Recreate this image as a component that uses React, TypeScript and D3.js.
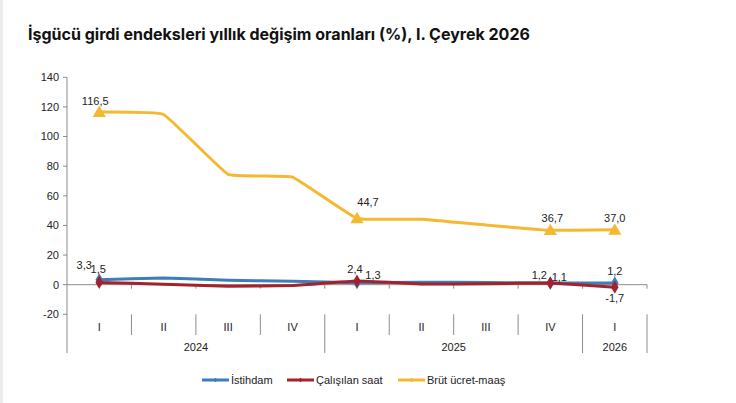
import React from "react";
import * as d3 from "d3";

// Quarters and years on the category axis.
const quarters = ["I", "II", "III", "IV", "I", "II", "III", "IV", "I"];
const years = [
    { label: "2024", from: 0, to: 4 },
    { label: "2025", from: 4, to: 8 },
    { label: "2026", from: 8, to: 9 },
];

// Series values (% annual change).
const istihdam = [3.3, 4.5, 3.0, 2.3, 1.3, 1.7, 1.4, 1.2, 1.2];
const calisilanSaat = [1.5, 0.3, -1.0, -0.5, 2.4, 0.5, 0.6, 1.1, -1.7];
const brutUcret = [116.5, 114.9, 74.5, 72.6, 44.7, 44.2, 40.3, 36.7, 37.0];

const yTicks = [-20, 0, 20, 40, 60, 80, 100, 120, 140];

// Points that carry a marker and a value label.
const labelled = [0, 4, 7, 8];

interface ISeries {
    name: string;
    values: number[];
    color: string;
    marker: "diamond" | "triangle";
    // label offsets per labelled index: [dx, dy]
    offsets: Record<number, [number, number]>;
}

const series: ISeries[] = [
    {
        name: "İstihdam",
        values: istihdam,
        color: "#3b7dbd",
        marker: "diamond",
        offsets: { 0: [-15, -15], 4: [16, -8], 7: [-11, -8], 8: [0, -12] },
    },
    {
        name: "Çalışılan saat",
        values: calisilanSaat,
        color: "#a4222c",
        marker: "diamond",
        offsets: { 0: [-1, -13], 4: [-2, -12], 7: [9, -6], 8: [0, 11] },
    },
    {
        name: "Brüt ücret-maaş",
        values: brutUcret,
        color: "#f5b931",
        marker: "triangle",
        offsets: { 0: [-4, -11], 4: [11, -16], 7: [2, -12], 8: [0, -12] },
    },
];

const fmt = (v: number): string => v.toFixed(1).replace(".", ",");

const W = 736;
const H = 403;
const left = 67;
const right = 647;
const catTop = 314.3;
const catMid = 335;
const catBottom = 353;

const App = () => {
    const x = d3.scaleBand<number>().domain(d3.range(quarters.length)).range([left, right]).padding(0);
    const cx = (i: number) => (x(i) as number) + x.bandwidth() / 2;
    const y = d3.scaleLinear().domain([-20, 140]).range([314.3, 77.3]);
    const y0 = y(0);

    // Excel-like light smoothing
    const line = d3.line<number>()
        .x((_, i) => cx(i))
        .y((d) => y(d))
        .curve(d3.curveCardinal.tension(0.75));

    const diamond = d3.symbol().type(d3.symbolDiamond).size(50)() as string;
    const triangle = d3.symbol().type(d3.symbolTriangle).size(75)() as string;

    const axisColor = "#8c8c8c";
    const font = "'Liberation Sans', Arial, sans-serif";

    const legendItems = [
        { x: 202, s: series[0] },
        { x: 287, s: series[1] },
        { x: 398, s: series[2] },
    ];

    return (
        <svg width={W} height={H} style={{ position: "fixed", left: 0, top: 0, background: "#fff" }}>
            <rect x={0} y={0} width={W} height={H} fill="#fff" />
            <rect x={0} y={0} width={3} height={H} fill="#ebebeb" />

            <text x={28} y={40} fontFamily="Inter, 'Noto Sans', sans-serif" fontWeight={700} fontSize={16} fill="#111">
                İşgücü girdi endeksleri yıllık değişim oranları (%), I. Çeyrek 2026
            </text>

            {/* y axis */}
            <line x1={left} x2={left} y1={y(140)} y2={catBottom} stroke={axisColor} />
            {yTicks.map((t) => (
                <g key={t}>
                    <line x1={left - 4} x2={left} y1={y(t)} y2={y(t)} stroke={axisColor} />
                    <text x={left - 8} y={y(t)} dy="0.35em" textAnchor="end" fontFamily={font} fontSize={11} fill="#222">
                        {t}
                    </text>
                </g>
            ))}

            {/* zero line with category ticks */}
            <line x1={left} x2={right} y1={y0} y2={y0} stroke={axisColor} />
            {d3.range(1, quarters.length + 1).map((i) => {
                const bx = left + i * x.bandwidth();
                return <line key={i} x1={bx} x2={bx} y1={y0} y2={y0 + 4} stroke={axisColor} />;
            })}

            {/* category separators */}
            {d3.range(1, quarters.length + 1).map((i) => {
                const bx = left + i * x.bandwidth();
                const isYear = years.some((yr) => yr.to === i);
                return <line key={i} x1={bx} x2={bx} y1={catTop} y2={isYear ? catBottom : catMid} stroke={axisColor} />;
            })}
            {quarters.map((q, i) => (
                <text key={i} x={cx(i)} y={327} dy="0.35em" textAnchor="middle" fontFamily={font} fontSize={11} fill="#222">
                    {q}
                </text>
            ))}
            {years.map((yr) => (
                <text
                    key={yr.label}
                    x={left + ((yr.from + yr.to) / 2) * x.bandwidth()}
                    y={347}
                    dy="0.35em"
                    textAnchor="middle"
                    fontFamily={font}
                    fontSize={11}
                    fill="#222"
                >
                    {yr.label}
                </text>
            ))}

            {/* series */}
            {series.map((s) => (
                <g key={s.name}>
                    <path d={line(s.values) as string} fill="none" stroke={s.color} strokeWidth={3} strokeLinejoin="round" />
                    {labelled.map((i) => (
                        <path
                            key={i}
                            d={s.marker === "triangle" ? triangle : diamond}
                            transform={`translate(${cx(i)},${y(s.values[i]) + (s.marker === "triangle" ? 1 : 0)})`}
                            fill={s.color}
                        />
                    ))}
                </g>
            ))}
            {series.map((s) => (
                <g key={s.name + "-labels"}>
                    {labelled.map((i) => (
                        <text
                            key={i}
                            x={cx(i) + s.offsets[i][0]}
                            y={y(s.values[i]) + s.offsets[i][1]}
                            dy="0.35em"
                            textAnchor="middle"
                            fontFamily={font}
                            fontSize={11}
                            fill="#222"
                        >
                            {fmt(s.values[i])}
                        </text>
                    ))}
                </g>
            ))}

            {/* legend */}
            {legendItems.map(({ x: lx, s }) => (
                <g key={s.name}>
                    <line x1={lx} x2={lx + 27} y1={380} y2={380} stroke={s.color} strokeWidth={3} />
                    <line x1={lx + 13.5} x2={lx + 13.5} y1={378} y2={382} stroke={s.color} strokeWidth={1.5} />
                    <text x={lx + 29} y={380} dy="0.35em" fontFamily={font} fontSize={11} fill="#222">
                        {s.name}
                    </text>
                </g>
            ))}
        </svg>
    );
};

export default App;
